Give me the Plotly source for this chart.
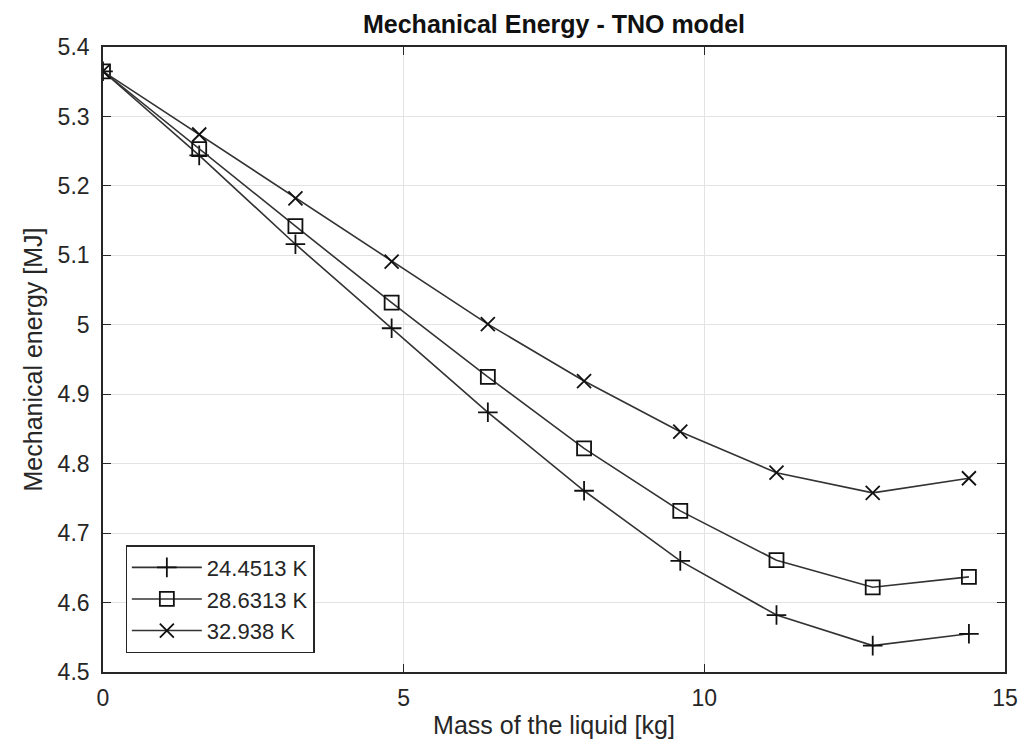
import plotly.graph_objects as go

mass = [0, 1.6, 3.2, 4.8, 6.4, 8.0, 9.6, 11.2, 12.8, 14.4]
e_24 = [5.365, 5.244, 5.116, 4.995, 4.874, 4.761, 4.660, 4.582, 4.538, 4.555]
e_28 = [5.365, 5.253, 5.142, 5.032, 4.925, 4.822, 4.732, 4.661, 4.622, 4.637]
e_32 = [5.365, 5.274, 5.182, 5.091, 5.001, 4.919, 4.846, 4.787, 4.758, 4.779]
labels = ["24.4513 K", "28.6313 K", "32.938 K"]
symbols = ["cross-thin-open", "square-open", "x-thin-open"]

FONT = "Liberation Sans, Arial, sans-serif"
LC = "#262626"

fig = go.Figure()
for ys, name, sym in zip([e_24, e_28, e_32], labels, symbols):
    fig.add_trace(go.Scatter(
        x=mass, y=ys, name=name, mode="lines+markers",
        line=dict(color="#333333", width=1.6),
        marker=dict(symbol=sym, size=14, color="#111111",
                    line=dict(color="#111111", width=1.8)),
    ))

axis_common = dict(
    showline=True, linecolor=LC, linewidth=1.6, mirror="allticks",
    ticks="inside", ticklen=8, tickcolor=LC, tickwidth=1,
    showgrid=True, gridcolor="#e3e3e3", gridwidth=1,
    zeroline=False,
    tickfont=dict(family=FONT, size=23, color=LC),
    title_font=dict(family=FONT, size=25, color=LC),
)

fig.update_xaxes(range=[0, 15], tickvals=[0, 5, 10, 15],
                 title_text="Mass of the liquid [kg]", title_standoff=6,
                 ticklabelstandoff=5,
                 **axis_common)
fig.update_yaxes(range=[4.5, 5.4],
                 tickvals=[4.5, 4.6, 4.7, 4.8, 4.9, 5.0, 5.1, 5.2, 5.3, 5.4],
                 ticktext=["4.5", "4.6", "4.7", "4.8", "4.9", "5", "5.1", "5.2", "5.3", "5.4"],
                 title_text="Mechanical energy [MJ]", title_standoff=8,
                 ticklabelstandoff=7,
                 **axis_common)

fig.update_layout(
    width=1030, height=751,
    margin=dict(l=103, r=20, t=47, b=79),
    paper_bgcolor="white", plot_bgcolor="white",
    title=dict(text="<b>Mechanical Energy - TNO model</b>", xref="paper", x=0.5,
               xanchor="center", yref="container", y=0.968, yanchor="middle",
               font=dict(family=FONT, size=25, color="#111111")),
    legend=dict(x=0.025, y=0.03, xanchor="left", yanchor="bottom",
                bordercolor=LC, borderwidth=1.3, bgcolor="white",
                font=dict(family=FONT, size=22, color=LC),
                tracegroupgap=0, itemwidth=70),
    showlegend=True,
)

fig.write_html("out.html")
